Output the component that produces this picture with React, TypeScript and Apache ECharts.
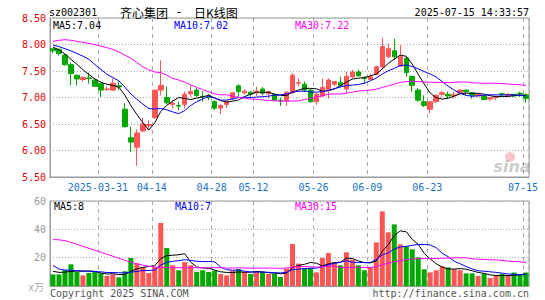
import React, { useEffect, useRef } from 'react';
import * as echarts from 'echarts';

const dates = [
  '2025-03-19','2025-03-20','2025-03-21','2025-03-24','2025-03-25','2025-03-26','2025-03-27','2025-03-28','2025-03-31',
  '2025-04-01','2025-04-02','2025-04-03','2025-04-07','2025-04-08','2025-04-09','2025-04-10','2025-04-11','2025-04-14',
  '2025-04-15','2025-04-16','2025-04-17','2025-04-18','2025-04-21','2025-04-22','2025-04-23','2025-04-24','2025-04-25',
  '2025-04-28','2025-04-29','2025-04-30',
  '2025-05-06','2025-05-07','2025-05-08','2025-05-09','2025-05-12','2025-05-13','2025-05-14','2025-05-15','2025-05-16',
  '2025-05-19','2025-05-20','2025-05-21','2025-05-22','2025-05-23','2025-05-26','2025-05-27','2025-05-28','2025-05-29','2025-05-30',
  '2025-06-03','2025-06-04','2025-06-05','2025-06-06','2025-06-09','2025-06-10','2025-06-11','2025-06-12','2025-06-13',
  '2025-06-16','2025-06-17','2025-06-18','2025-06-19','2025-06-20','2025-06-23','2025-06-24','2025-06-25','2025-06-26','2025-06-27','2025-06-30',
  '2025-07-01','2025-07-02','2025-07-03','2025-07-04','2025-07-07','2025-07-08','2025-07-09','2025-07-10','2025-07-11','2025-07-14','2025-07-15'
];

const opens = [
  7.92,7.91,7.80,7.62,7.42,7.34,7.37,7.33,7.26,7.15,
  7.14,7.22,6.78,6.24,6.06,6.37,6.47,6.62,7.14,7.00,
  6.87,6.85,6.87,7.07,7.14,7.02,7.02,6.92,6.80,6.87,
  6.98,7.22,7.09,7.10,7.09,7.16,7.07,7.06,6.95,6.94,
  7.09,7.27,7.25,7.14,6.92,7.03,7.15,7.25,7.28,7.16,
  7.39,7.48,7.37,7.34,7.44,7.58,7.77,7.88,7.59,7.74,
  7.40,7.14,6.92,6.78,6.92,7.06,7.06,7.03,7.08,7.14,
  7.09,7.03,7.03,6.97,7.00,7.07,7.04,7.06,7.08,7.05
];
const closes = [
  7.88,7.83,7.62,7.45,7.35,7.38,7.36,7.21,7.14,7.16,
  7.27,7.20,6.45,6.16,6.33,6.50,6.49,7.14,7.23,6.90,
  6.89,6.84,7.06,7.11,7.04,7.01,7.00,6.80,6.85,6.92,
  7.09,7.11,7.12,7.06,7.12,7.08,7.11,6.95,6.94,7.10,
  7.42,7.28,7.14,6.92,7.06,7.19,7.33,7.30,7.23,7.40,
  7.48,7.41,7.36,7.39,7.58,7.96,7.92,7.77,7.77,7.47,
  7.23,6.95,6.85,6.92,7.04,7.09,7.03,7.05,7.14,7.11,
  7.04,7.06,6.96,7.00,7.02,7.06,7.06,7.03,7.07,6.98
];
const lows = [
  7.83,7.79,7.60,7.23,7.23,7.30,7.26,7.20,7.01,7.12,
  7.12,7.14,6.43,5.97,5.71,6.35,6.41,6.60,7.04,6.87,
  6.80,6.76,6.79,7.01,7.01,6.92,6.95,6.76,6.69,6.80,
  6.95,7.01,7.06,6.98,7.03,7.04,6.98,6.93,6.84,6.84,
  7.06,7.21,7.11,6.90,6.86,7.01,6.98,7.21,7.20,7.08,
  7.36,7.39,7.26,7.33,7.42,7.53,7.74,7.70,7.58,7.39,
  7.11,6.92,6.82,6.70,6.89,7.01,6.98,6.98,7.06,7.04,
  6.98,7.01,6.95,6.93,6.95,7.01,7.02,7.01,7.01,6.90
];
const highs = [
  7.93,7.92,7.82,7.66,7.43,7.40,7.47,7.36,7.28,7.21,
  7.36,7.30,6.89,6.45,6.40,6.62,6.57,7.14,7.70,7.20,
  6.95,6.92,7.11,7.23,7.18,7.12,7.06,6.95,6.87,6.94,
  7.09,7.25,7.15,7.12,7.20,7.20,7.13,7.07,7.00,7.12,
  7.46,7.36,7.30,7.16,7.09,7.36,7.36,7.31,7.39,7.48,
  7.52,7.52,7.40,7.45,7.59,8.13,8.02,8.11,7.99,7.77,
  7.41,7.18,7.04,6.93,7.06,7.12,7.11,7.11,7.15,7.14,
  7.10,7.07,7.04,7.01,7.03,7.09,7.08,7.07,7.11,7.08
];
const volumes = [
  8.2,8.2,11.1,15.3,9.9,7.5,9.2,9.9,8.9,7.1,
  8.2,6.1,10.4,19.8,16.0,13.4,9.2,13.4,44.5,26.8,
  14.6,11.1,16.9,14.6,9.9,11.1,9.9,10.8,8.5,7.5,
  10.8,12.0,9.9,8.5,9.9,9.9,8.5,8.5,6.4,12.2,
  29.6,15.8,12.7,12.7,9.6,19.8,23.3,16.9,14.6,23.8,
  18.6,14.6,11.1,13.4,30.8,52.7,37.9,43.5,29.4,28.0,
  25.9,20.2,11.8,9.6,11.1,14.1,13.2,11.8,11.1,8.9,
  8.9,7.1,8.5,5.6,7.1,8.5,7.1,9.5,8.0,9.5
];

// MA values for days whose window reaches before the first candle
const ma5Head = [7.95, 7.90, 7.82, 7.72];
const ma10Head = [7.99, 7.96, 7.92, 7.88, 7.83, 7.78, 7.72, 7.62, 7.53];
const ma30Head = [8.06, 8.08, 8.09, 8.08, 8.06, 8.04, 8.02, 8.00, 7.97, 7.94, 7.91, 7.86, 7.80, 7.74, 7.66, 7.58, 7.52, 7.48, 7.47, 7.42, 7.36, 7.33, 7.29, 7.24, 7.19, 7.15, 7.11, 7.07, 7.05];
const vma5Head = [10.4, 9.6, 9.8, 10.3];
const vma10Head = [14.5, 12.0, 11.3, 11.1, 10.9, 10.6, 10.4, 10.2, 10.0];
const vma30Head = [32.8, 32.6, 32.0, 30.8, 29.5, 28.0, 26.6, 25.2, 23.9, 22.5, 21.0, 19.6, 18.2, 16.9, 15.7, 14.7, 13.9, 13.4, 13.1, 13.0, 12.9, 12.9, 12.9, 12.9, 12.9, 12.9, 12.9, 12.9, 12.9];

const tickDates = ['2025-03-31','2025-04-14','2025-04-28','2025-05-12','2025-05-26','2025-06-09','2025-06-23','2025-07-15'];
const tickLabels = ['2025-03-31','04-14','04-28','05-12','05-26','06-09','06-23','07-15'];

const titleParts = ['齐心集团', '-', '日K线图'];
const priceLegend = ['MA5:7.04', 'MA10:7.02', 'MA30:7.22'];
const volumeLegend = ['MA5:8', 'MA10:7', 'MA30:15'];

function movingAverage(values: number[], n: number, head: number[]) {
  return values.map((_, i) => {
    if (i < head.length) return head[i];
    let s = 0;
    for (let k = i - n + 1; k <= i; k++) s += values[k];
    return +(s / n).toFixed(3);
  });
}

const MONO = '"DejaVu Sans Mono", monospace';
const CJK = '12px "Noto Sans CJK SC"';
const UP = '#ff5555';
const DOWN = '#00a800';

export default function App() {
  const ref = useRef<HTMLDivElement>(null);
  useEffect(() => {
    if (!ref.current) return;
    const chart = echarts.init(ref.current, undefined, { renderer: 'svg' });
    const tickSet = new Set(tickDates);
    const labelOf = (v: string) => {
      const k = tickDates.indexOf(v);
      return k >= 0 ? tickLabels[k] : '';
    };
    const showTick = (_i: number, v: string) => tickSet.has(v);
    const splitDashed = { show: true, interval: showTick, lineStyle: { color: '#aaa', type: [4, 4] as any, width: 1 } };
    const splitDotted = { show: true, lineStyle: { color: '#aaa', type: [1, 2] as any, width: 1 } };
    const lineSeries = (name: string, data: number[], color: string, xi: number) => ({
      name, type: 'line', xAxisIndex: xi, yAxisIndex: xi, data, symbol: 'none', smooth: false,
      lineStyle: { color, width: 1 }, itemStyle: { color }, silent: true, z: 5,
    });
    const text = (t: string, x: number, y: number, fill: string, align = 'left', font = `10px ${MONO}`) => ({
      type: 'text', x, y, silent: true, z: 100,
      style: { text: t, fill, font, textAlign: align, textVerticalAlign: 'middle' },
    });

    chart.setOption({
      animation: false,
      backgroundColor: '#ffffff',
      grid: [
        { left: 50, top: 18, width: 479, height: 159, show: true, borderColor: '#999', borderWidth: 1 },
        { left: 50, top: 201, width: 479, height: 85, show: true, borderColor: '#999', borderWidth: 1 },
      ],
      xAxis: [
        {
          type: 'category', gridIndex: 0, data: dates, boundaryGap: true,
          axisLine: { show: true, lineStyle: { color: '#999' } }, axisTick: { show: false },
          axisLabel: { interval: showTick, formatter: labelOf, color: '#1a72c4', fontFamily: MONO, fontSize: 10, margin: 5, padding: [0, 6, 0, 0] },
          splitLine: splitDashed,
        },
        {
          type: 'category', gridIndex: 1, data: dates, boundaryGap: true,
          axisLine: { show: true, lineStyle: { color: '#999' } }, axisTick: { show: false },
          axisLabel: { show: false },
          splitLine: splitDashed,
        },
      ],
      yAxis: [
        {
          type: 'value', gridIndex: 0, min: 5.5, max: 8.5, interval: 0.5,
          axisLine: { show: true, lineStyle: { color: '#999' } }, axisTick: { show: false },
          axisLabel: { color: '#e00000', fontFamily: MONO, fontSize: 10, margin: 4, formatter: (v: number) => v.toFixed(2) },
          splitLine: splitDotted,
        },
        {
          type: 'value', gridIndex: 1, min: 0, max: 60, interval: 20,
          axisLine: { show: true, lineStyle: { color: '#999' } }, axisTick: { show: false },
          axisLabel: { color: '#999', fontFamily: MONO, fontSize: 10, margin: 4, formatter: (v: number) => (v === 0 ? '' : String(v)) },
          splitLine: splitDotted,
        },
      ],
      series: [
        {
          type: 'candlestick', xAxisIndex: 0, yAxisIndex: 0, barWidth: 5, silent: true,
          data: opens.map((o, i) => [o, closes[i], lows[i], highs[i]]),
          itemStyle: { color: UP, color0: DOWN, borderColor: UP, borderColor0: DOWN, borderWidth: 1 },
        },
        lineSeries('MA5', movingAverage(closes, 5, ma5Head), '#000000', 0),
        lineSeries('MA10', movingAverage(closes, 10, ma10Head), '#0000ff', 0),
        lineSeries('MA30', movingAverage(closes, 30, ma30Head), '#ff00ff', 0),
        {
          type: 'bar', xAxisIndex: 1, yAxisIndex: 1, barWidth: 5, silent: true,
          data: volumes.map((v, i) => ({ value: v, itemStyle: { color: closes[i] >= opens[i] ? UP : DOWN } })),
        },
        lineSeries('VMA5', movingAverage(volumes, 5, vma5Head), '#000000', 1),
        lineSeries('VMA10', movingAverage(volumes, 10, vma10Head), '#0000ff', 1),
        lineSeries('VMA30', movingAverage(volumes, 30, vma30Head), '#ff00ff', 1),
      ],
      graphic: [
        text('sz002301', 49, 12, '#000'),
        text(titleParts[0], 120, 12, '#000', 'left', CJK),
        text(titleParts[1], 179, 12, '#000', 'center', `12px ${MONO}`),
        text(titleParts[2], 194, 12, '#000', 'left', CJK),
        text('2025-07-15 14:33:57', 529, 12, '#000', 'right'),
        text(priceLegend[0], 53, 25, '#000'),
        text(priceLegend[1], 174, 25, '#0000ff'),
        text(priceLegend[2], 295, 25, '#ff00ff'),
        text(volumeLegend[0], 54, 206, '#000'),
        text(volumeLegend[1], 175, 206, '#0000ff'),
        text(volumeLegend[2], 295, 206, '#ff00ff'),
        text('x万', 28, 287, '#aaa', 'left', `10px ${MONO}, "Noto Sans CJK SC"`),
        text('Copyright 2025 SINA.COM', 50, 293, '#555'),
        text('http://finance.sina.com.cn', 529, 293, '#555', 'right'),
        { type: 'circle', shape: { cx: 510, cy: 157, r: 5 }, style: { fill: 'rgba(230,90,90,0.35)' }, silent: true, z: 1 },
        text('sina', 512, 166, 'rgba(120,120,120,0.4)', 'center', 'italic bold 16px "DejaVu Sans"'),
      ],
    });
    return () => chart.dispose();
  }, []);
  return <div ref={ref} style={{ position: 'absolute', left: 0, top: 0, width: 545, height: 300 }} />;
}
